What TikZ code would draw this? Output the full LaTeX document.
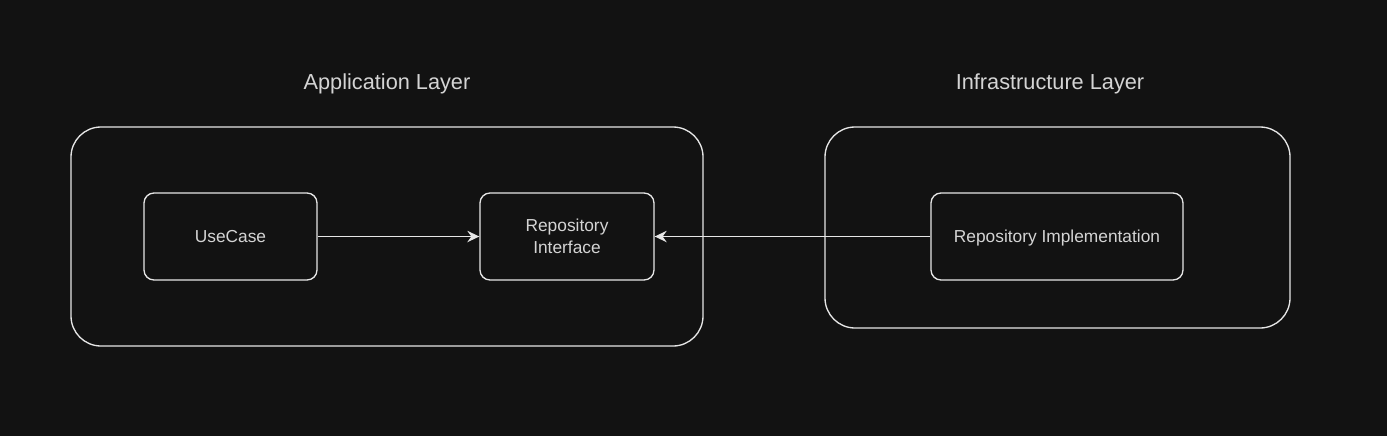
\documentclass[tikz,border=0pt]{standalone}
\usepackage{fontspec}
\setmainfont{Liberation Sans}
\usetikzlibrary{arrows.meta}
\definecolor{bgdark}{HTML}{121212}
\definecolor{linegrey}{HTML}{E6E6E6}
\definecolor{textgrey}{HTML}{D4D4D4}
\tikzset{
  layerbox/.style={draw=linegrey,line width=1pt,rounded corners=22.5pt,inner sep=0pt},
  classbox/.style={draw=linegrey,line width=1pt,rounded corners=7.5pt,minimum height=65.25pt,
    inner sep=0pt,align=center,text=textgrey,font=\fontsize{13}{16.5}\selectfont},
  layertitle/.style={text=textgrey,anchor=base,font=\fontsize{16.3}{19}\selectfont},
  depend/.style={draw=linegrey,line width=1.05pt,-{Stealth[length=9pt,width=8.5pt,inset=3pt]}}
}
\begin{document}
\begin{tikzpicture}[x=0.75pt,y=0.75pt,yscale=-1,xscale=1]
% background
\fill[bgdark] (0,0) rectangle (1387,436);
\useasboundingbox (0,0) rectangle (1387,436);

% Layers
\node[layerbox,minimum width=474pt,minimum height=164.25pt] (applayer) at (387,236.5) {};
\node[layerbox,minimum width=348.75pt,minimum height=150.75pt] (infralayer) at (1057.5,227.5) {};

% Layer titles
\node[layertitle] (apptitle) at (387,89.5) {Application Layer};
\node[layertitle] (infratitle) at (1050,89.5) {Infrastructure Layer};

% Classes
\node[classbox,minimum width=129.75pt] (usecase) at (230.5,236.5) {UseCase};
\node[classbox,minimum width=130.5pt] (repoif) at (567,236.5) {Repository\\Interface};
\node[classbox,minimum width=189pt,text depth=0pt] (repoimpl) at (1057,236.5) {Repository Implementation};

% Dependencies
\draw[depend] (usecase) -- (repoif);
\draw[depend] (repoimpl) -- (repoif);

\end{tikzpicture}
\end{document}
